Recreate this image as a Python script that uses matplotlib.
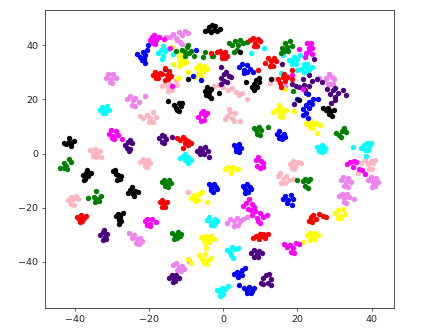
import matplotlib
matplotlib.use("Agg")
import matplotlib.pyplot as plt

# t-SNE embedding, one line per cluster
black_x = [-5.0, -4.2, -3.4, -2.6, -1.8, -1.0, -3.0, -2.2, -3.8,
           -5.0, -4.4, -3.8, -3.2, -4.6, -3.9, -3.3,
           -13.3, -12.7, -12.0, -11.4, -12.4, -11.8, -11.0,
           -43.0, -42.3, -41.6, -40.9, -40.2, -41.5, -41.0,
           -37.7, -37.0, -36.3, -35.7, -37.3, -36.6, -37.6,
           -29.6, -29.0, -28.3, -27.6, -28.6, -27.9, -29.2,
           -25.6, -25.0, -24.4, -23.7, -23.0, -24.6, -24.0,
           -29.0, -28.4, -27.7, -27.0, -28.2, -27.6, -28.0,
           7.8, 8.4, 9.0, 9.6, 8.2, 8.8, 9.6,
           26.8, 27.6, 28.2, 29.0, 29.8, 28.4, 29.4,
           -14.8, -9.6, 6.1, 12.9, -1.1, 4.5, 20.5]
black_y = [45.2, 45.8, 45.0, 45.6, 45.4, 46.0, 47.6, 47.0, 46.6,
           23.0, 24.4, 22.8, 23.8, 21.8, 21.2, 20.6,
           18.0, 17.0, 18.6, 17.6, 16.0, 15.6, 18.8,
           4.0, 3.6, 4.4, 3.8, 4.6, 5.6, 2.8,
           -8.0, -7.0, -8.2, -7.0, -9.4, -6.0, -9.8,
           -6.6, -7.6, -8.0, -8.4, -9.8, -9.4, -6.0,
           -14.4, -13.4, -14.8, -13.8, -14.2, -12.4, -15.6,
           -23.0, -22.2, -23.4, -21.8, -24.6, -25.0, -26.0,
           24.6, 25.6, 24.4, 26.6, 23.4, 27.0, 27.8,
           17.0, 16.2, 16.8, 15.8, 16.0, 14.6, 14.0,
           19.4, 27.6, 26.6, 27.7, 22.4, 37.5, 19.7]

red_x = [-19.0, -18.4, -17.7, -17.0, -16.5, -18.2, -17.5,
         -15.2, -14.6, -14.0, -14.8,
         -12.4, -11.6, -10.9, -10.2, -9.4, -8.8, -10.4, -9.6,
         -0.8, -0.2, 0.4, 1.0, -0.3, 0.5,
         7.2, 7.9, 8.6, 9.3, 10.0, 8.2, 9.0,
         11.2, 12.0, 12.8, 13.6, 14.3, 12.6, 13.4,
         14.8, 15.4, 16.0, 16.7, 17.2, 15.6, 16.3,
         -17.0, -16.5, -15.9, -15.2, -16.4, -15.7,
         -39.4, -38.8, -38.2, -37.5, -37.0, -38.5, -37.9,
         23.0, 23.6, 24.2, 25.0, 25.8, 26.8, 27.8, 24.0,
         8.0, 8.8, 9.6, 10.4, 11.2, 12.0, 9.8, 10.8,
         -15.7, -15.8, -10.7, -3.3, -1.8, 9.5, 18.5, 18.4]
red_y = [29.0, 30.0, 28.8, 29.8, 29.4, 27.8, 27.8,
         29.0, 30.0, 28.6, 27.6,
         5.6, 5.0, 6.0, 5.2, 4.6, 3.8, 3.8, 3.0,
         38.0, 36.4, 37.6, 36.2, 35.2, 35.4,
         41.8, 42.8, 41.0, 42.4, 41.4, 39.8, 39.6,
         33.4, 35.2, 34.2, 35.4, 34.0, 32.4, 32.2,
         27.6, 26.2, 28.2, 26.8, 28.2, 24.6, 29.4,
         -18.0, -17.0, -18.4, -17.8, -19.8, -19.6,
         -23.4, -24.2, -22.8, -23.8, -23.2, -25.4, -25.0,
         -24.8, -23.4, -22.8, -24.2, -22.4, -23.0, -23.4, -25.4,
         -31.2, -30.6, -31.4, -30.4, -31.2, -29.6, -29.8, -29.6,
         31.6, 27.0, 2.0, 37.0, 37.5, 31.0, 31.0, 27.4]

blue_x = [-23.2, -22.4, -21.7, -21.0, -20.4, -22.0, -21.3, -20.2, -21.2,
          4.2, 5.0, 5.7, 6.4, 7.2, 7.9, 5.6, 6.3,
          21.6, 22.4, 23.2, 24.0, 22.4, 23.0,
          14.4, 15.0, 15.7, 16.4, 15.0, 15.8, 16.6,
          2.8, 3.5, 4.2, 4.8, 3.4, 4.2,
          -3.9, -3.2, -2.5, -1.9, -3.4, -2.7, -1.8,
          5.2, 5.8, 6.4, 7.2, 5.8, 6.6, 7.4,
          16.0, 16.7, 17.4, 18.2, 18.9, 17.2, 18.4,
          3.0, 3.7, 4.4, 5.1, 5.8, 4.0, 5.0,
          5.6, 6.3, 7.0, 7.8, 8.4, 6.5, 7.4,
          -7.4, -8.1, -5.9, 19.8, 24.3, 25.4, 21.6, 22.8, 22.9, 4.3]
blue_y = [36.6, 35.8, 37.6, 36.4, 38.2, 34.6, 35.0, 40.2, 33.4,
          31.8, 33.2, 31.0, 32.8, 31.2, 30.2, 29.8, 30.0,
          16.6, 17.8, 16.8, 18.4, 15.0, 19.2,
          7.2, 8.4, 6.6, 7.4, 5.6, 5.2, 6.0,
          3.2, 2.2, 3.4, 2.2, 0.8, 0.6,
          -11.4, -12.8, -11.2, -12.2, -13.6, -14.0, -13.2,
          -12.0, -13.2, -11.2, -12.2, -14.4, -14.2, -13.0,
          -16.8, -15.6, -17.2, -15.4, -16.8, -18.4, -18.8,
          -44.6, -43.8, -44.4, -43.0, -42.2, -45.6, -45.0,
          -49.8, -50.8, -49.4, -50.6, -49.6, -51.6, -51.6,
          38.1, 28.7, 27.1, 20.0, 20.3, 20.0, 14.4, 13.3, 22.0, -48.4]

green_x = [-11.0, -10.4, -9.8, -9.2, -8.6, -10.2, -9.5, -12.6, -8.0,
           1.6, 2.4, 3.2, 3.9, 4.6, 5.4, 6.4, 3.6, 3.0,
           15.8, 16.6, 17.2, 18.0, 18.4, 16.4, 17.4,
           8.2, 8.9, 9.6, 10.3, 9.2, 10.0, 12.1,
           30.4, 31.2, 32.0, 33.0, 32.4, 31.6,
           -43.9, -43.0, -42.3, -41.6, -41.0, -43.0, -42.2,
           -16.6, -16.0, -15.3, -14.5, -14.0, -15.6, -14.9,
           -36.3, -34.8, -34.2, -33.6, -33.0, -34.4, -33.4,
           -13.8, -13.0, -12.3, -11.5, -13.2, -12.5, -11.7,
           21.4, 22.1, 22.8, 23.5, 21.9, 22.8, 19.8,
           -4.9, -5.5, -2.8, -2.9, 18.7, -14.6, 15.6]
green_y = [38.4, 37.4, 39.2, 37.0, 37.8, 36.2, 40.0, 38.0, 36.2,
           40.8, 40.0, 41.6, 40.2, 42.0, 41.0, 41.2, 38.4, 37.4,
           38.8, 41.0, 39.4, 41.6, 39.8, 37.8, 37.8,
           9.6, 8.8, 9.8, 8.6, 7.4, 7.0, 9.7,
           7.6, 7.0, 8.4, 8.0, 9.6, 6.0,
           -5.5, -3.4, -4.4, -2.0, -3.2, -5.2, -5.6,
           -10.6, -9.6, -11.2, -9.8, -10.8, -12.0, -12.4,
           -16.5, -16.0, -13.8, -16.8, -15.6, -17.8, -17.4,
           -29.4, -30.2, -28.8, -29.8, -31.4, -31.2, -30.6,
           -10.2, -9.2, -10.2, -9.2, -11.8, -12.6, -9.8,
           37.5, 35.7, 36.0, 36.0, 23.0, 30.5, 37.0]

cyan_x = [-17.6, -16.8, -16.3, -15.6, -15.0, -16.2, -16.6,
          17.6, 18.4, 19.1, 19.8, 20.6, 18.6, 19.6,
          21.0, 21.7, 22.4, 23.2, 23.8, 21.8, 22.6,
          -33.2, -32.6, -32.0, -31.3, -30.8, -32.4, -31.8,
          25.2, 26.0, 26.7, 27.5, 25.8, 26.6, 27.2,
          37.2, 37.9, 38.6, 39.3, 39.8, 38.2, 39.0, 38.4,
          -11.6, -10.9, -10.2, -9.5, -8.8, -10.4, -9.4,
          -4.4, -3.7, -3.0, -2.3, -1.6, -3.4, -2.4,
          1.0, 1.8, 2.5, 3.2, 4.0, 2.0, 2.6,
          -1.6, -0.9, -0.2, 0.5, 1.2, -1.0, 0.0,
          -13.5, 10.9, 7.5, 16.0, 15.6, 19.8, 35.0]
cyan_y = [37.2, 38.4, 39.6, 37.8, 38.6, 36.2, 35.0,
          34.6, 34.0, 35.6, 35.0, 36.4, 33.2, 33.2,
          31.2, 30.2, 32.0, 30.8, 32.0, 33.2, 33.0,
          16.0, 17.2, 16.2, 17.4, 16.2, 15.0, 14.8,
          2.4, 1.8, 3.0, 2.2, 0.8, 0.4, 0.8,
          2.2, 3.2, 4.0, 2.8, 4.0, 1.2, 1.2, -0.8,
          -1.8, -0.8, -2.4, -1.2, -2.2, -0.2, -3.4,
          -24.4, -23.4, -25.2, -24.0, -24.8, -26.4, -26.2,
          -35.6, -36.4, -34.6, -35.4, -34.8, -37.4, -38.4,
          -50.4, -51.2, -49.8, -50.0, -49.0, -52.4, -52.0,
          36.6, 39.1, 37.3, 36.3, 29.8, 30.8, 2.6]

magenta_x = [-19.8, -19.2, -18.6, -18.0, -17.2, -16.0, -18.9, -18.3,
             22.4, 23.0, 23.6, 24.0, 23.0, 24.0, 22.6,
             -6.8, -6.1, -5.5, -4.9, -4.4, -6.0, -5.2,
             -30.8, -30.2, -29.6, -29.0, -28.4, -27.2, -30.0, -29.4,
             -21.2, -20.4, -19.8, -19.2, -18.2, -20.4, -19.6,
             8.8, 9.5, 10.2, 10.8, 9.2, 9.9, 10.7,
             33.4, 34.2, 35.0, 35.8, 36.6, 37.4, 38.2, 35.2,
             5.4, 6.2, 7.0, 7.7, 8.2, 6.8, 7.4,
             7.8, 8.5, 9.2, 9.9, 10.6, 11.8, 9.4, 10.0,
             16.4, 17.2, 18.0, 18.8, 19.6, 20.4, 18.2, 19.0,
             -14.3, 20.3, 22.0, 18.5, 21.4, -13.8]
magenta_y = [41.8, 43.0, 43.8, 42.0, 43.2, 42.4, 40.8, 40.4,
             37.2, 39.0, 40.8, 38.8, 37.8, 36.8, 41.0,
             13.6, 15.0, 15.8, 14.2, 14.8, 12.0, 12.4,
             7.4, 8.6, 6.6, 8.4, 6.8, 5.2, 5.8, 5.4,
             -25.0, -24.0, -26.0, -24.2, -25.2, -26.4, -26.8,
             -2.4, -1.4, -2.8, -3.6, -4.4, -5.4, -5.0,
             -4.0, -3.2, -5.0, -3.0, -5.6, -6.2, -7.6, -2.8,
             -19.2, -18.4, -16.6, -18.6, -19.6, -20.4, -20.8,
             -22.8, -21.2, -23.6, -21.8, -23.4, -22.8, -25.0, -25.6,
             -33.4, -34.4, -33.6, -34.8, -33.0, -33.4, -36.2, -36.6,
             39.0, 38.5, 35.7, 29.0, 23.9, 25.0]

yellow_x = [-12.0, -11.4, -10.8, -10.3, -11.6, -11.0, -11.8, -10.0,
            -7.2, -6.5, -5.8, -5.1, -4.4, -6.4, -5.5, -6.0,
            13.4, 14.1, 14.8, 15.5, 16.2, 16.9, 15.4, 15.9, 15.0,
            22.2, 22.9, 23.6, 24.3, 25.0, 26.0, 23.8, 23.4,
            0.6, 1.3, 2.0, 2.7, 3.4, 4.0, 2.0,
            -8.6, -7.9, -7.2, -6.5, -5.8, -7.6, -6.9,
            30.0, 30.8, 31.5, 32.2, 32.9, 30.8, 31.8,
            22.6, 23.3, 24.0, 24.7, 25.4, 23.4, 24.4,
            -6.0, -5.3, -4.6, -3.9, -3.2, -2.6, -5.0, -3.8,
            -6.4, -5.6, -4.9, -4.2, -3.2, -5.2, -4.4,
            -13.8, -13.5, -12.2, -9.4, -7.6, 16.3, 19.1, 25.2,
            -4.5, -4.6, -9.5, -8.7, 21.4]
yellow_y = [36.0, 37.2, 35.4, 36.6, 34.0, 33.0, 32.4, 33.8,
            31.6, 32.8, 31.2, 32.4, 31.2, 29.8, 30.0, 28.6,
            15.2, 16.2, 15.6, 17.0, 15.4, 16.0, 14.0, 13.6, 18.0,
            11.2, 10.4, 12.2, 10.8, 11.4, 10.6, 9.4, 9.8,
            -5.6, -5.0, -6.2, -4.8, -5.8, -5.6, -7.2,
            -16.4, -15.4, -16.8, -14.9, -14.2, -17.6, -17.2,
            -21.8, -21.0, -23.0, -20.6, -22.4, -23.8, -23.6,
            -30.2, -29.4, -30.8, -29.2, -30.2, -31.8, -31.6,
            -30.8, -31.8, -30.4, -31.6, -30.6, -31.4, -33.0, -32.8,
            -37.6, -39.0, -37.2, -39.2, -38.4, -40.4, -40.6,
            39.5, 33.0, 28.0, 30.0, 28.4, 23.7, 15.7, 7.7,
            -17.7, -34.8, -39.0, -40.5, -32.8]

indigo_x = [-26.4, -25.7, -25.2, -24.6, -25.8, -25.1, -25.4,
            -17.2, -16.5, -15.9, -15.3, -16.6, -16.0,
            -7.0, -6.3, -5.6, -4.9, -4.2, -6.2, -5.2, -3.8,
            -0.6, 0.1, 0.8, 1.5, 2.2, 0.3, 1.0, -0.5,
            18.4, 19.6, 20.4, 21.6, 21.8, 22.0, 23.2, 24.0, 25.2, 26.6, 22.2, 23.0,
            28.8, 29.6, 30.2, 31.0, 32.2, 33.2, 30.2, 30.0,
            -33.2, -32.5, -31.9, -31.2, -32.4, -31.5, -32.0,
            -14.6, -13.9, -13.2, -12.6, -12.0, -13.6, -12.9,
            7.6, 8.3, 9.0, 9.7, 10.4, 8.4, 9.4,
            10.2, 10.8, 11.6, 12.2, 12.8, 10.8, 12.8, 12.0,
            -13.7, -0.6, 15.8, 24.5, 27.9, 29.1, 19.1, -15.7]
indigo_y = [3.2, 4.2, 5.0, 3.8, 2.2, 1.6, 1.0,
            5.6, 7.0, 6.6, 5.4, 4.4, 4.0,
            1.0, 2.2, 1.4, 2.4, 0.8, 0.0, 0.0, -1.3,
            28.0, 29.4, 30.0, 28.8, 28.2, 26.8, 26.4, 25.6,
            25.6, 25.0, 24.6, 27.4, 25.4, 23.4, 29.0, 26.8, 27.6, 26.4, 22.4, 24.8,
            22.0, 23.4, 24.2, 22.4, 23.4, 21.8, 21.0, 19.8,
            -30.2, -29.0, -30.8, -29.6, -31.8, -31.6, -28.2,
            -45.8, -45.0, -46.4, -44.8, -46.0, -47.4, -47.2,
            -36.6, -35.6, -37.0, -35.8, -36.6, -38.2, -38.2,
            -47.8, -46.0, -45.0, -44.4, -46.4, -48.2, -48.4, -47.6,
            6.2, 31.8, 32.9, 34.8, 24.0, 18.8, 18.4, 31.1]

violet_x = [-14.2, -13.4, -12.6, -11.9, -11.2, -10.4, -9.6, -12.4, -11.6,
            -31.6, -30.9, -30.3, -29.6, -29.0, -30.6, -30.0,
            -25.8, -25.0, -24.4, -23.7, -22.8, -21.0, -24.6, -23.8,
            27.8, 28.5, 29.2, 29.9, 28.2, 28.8, 29.7, 27.8,
            31.6, 32.3, 33.0, 33.7, 34.4, 32.6, 33.6,
            39.0, 39.7, 40.4, 41.1, 41.6, 40.0, 41.0,
            31.2, 31.9, 32.6, 33.3, 34.0, 35.2, 32.4, 33.2,
            1.0, 1.8, 2.8, 3.6, 4.4, 5.4, 6.4, 3.0, 4.0,
            -24.6, -23.9, -23.2, -22.5, -21.8, -23.4, -22.6,
            -13.4, -12.6, -11.9, -11.2, -10.5, -9.2, -12.4, -11.4,
            -15.4, -11.2, -25.5, 16.7, 25.8]
violet_y = [43.0, 44.2, 42.8, 44.8, 43.6, 45.4, 44.4, 41.8, 41.2,
            28.0, 29.4, 27.6, 29.2, 27.8, 26.4, 26.0,
            20.0, 21.2, 19.6, 20.6, 19.2, 21.4, 17.8, 17.4,
            27.6, 29.4, 28.4, 27.6, 25.6, 25.8, 25.6, 28.0,
            -9.6, -8.8, -10.4, -9.0, -10.4, -12.0, -12.4,
            -9.8, -8.8, -10.6, -9.0, -10.6, -12.2, -12.0,
            -15.8, -15.0, -16.4, -14.8, -16.2, -16.6, -18.0, -18.4,
            -25.6, -24.0, -25.0, -23.8, -24.8, -24.2, -23.4, -26.6, -26.4,
            -31.0, -30.2, -31.6, -31.2, -32.4, -33.0, -33.2,
            -41.2, -40.4, -42.0, -41.4, -42.6, -39.6, -43.0, -43.2,
            42.9, 40.4, -29.4, 25.0, 27.8]

pink_x = [-16.6, -15.8, -15.0, -14.3, -13.4, -12.4, -14.8, -13.8, -12.8,
          -22.4, -21.5, -20.6, -19.8, -19.0, -18.2, -20.0, -19.0,
          -2.6, -1.2, 0.0, 1.4, 2.4, 3.4, 4.2, 5.0,
          0.4, 1.1, 1.8, 2.5, 3.2, 4.4, 1.6, 2.8,
          -35.8, -35.2, -34.6, -34.0, -33.2, -35.2, -34.2, -33.0,
          -22.4, -21.7, -21.0, -20.3, -19.8, -21.2, -20.6,
          -41.8, -41.0, -40.4, -39.7, -39.0, -41.0, -40.2,
          18.0, 18.7, 19.4, 20.1, 21.0, 18.4, 19.2,
          14.8, 15.4, 16.1, 16.8, 17.6, 18.8, 15.6, 16.6,
          37.2, 38.1, 39.0, 39.7, 40.4, 41.0, 39.2, 40.2,
          -9.6, 6.4, 12.7, 13.6, 36.2]
pink_y = [24.8, 25.8, 24.6, 25.6, 24.8, 25.2, 23.0, 23.4, 27.0,
          14.0, 13.2, 14.4, 13.2, 15.4, 13.4, 11.8, 11.6,
          24.8, 25.2, 24.4, 23.6, 24.2, 22.8, 21.8, 22.4,
          12.6, 13.8, 15.4, 13.0, 14.8, 12.2, 16.6, 12.0,
          1.2, 0.0, 1.8, 0.2, 0.8, -1.0, -1.4, -1.2,
          -3.0, -2.0, -3.6, -2.4, -3.4, -4.6, -5.0,
          -17.0, -16.0, -16.6, -15.6, -16.8, -18.6, -18.8,
          -3.8, -2.8, -4.4, -3.0, -3.4, -5.4, -5.6,
          -8.4, -7.0, -9.4, -8.2, -9.6, -9.2, -11.0, -10.8,
          -3.4, -2.4, -4.0, -2.6, -3.6, -2.2, -5.6, -5.8,
          -14.3, 20.3, 26.0, 27.6, -7.3]

series = [("lightpink", pink_x, pink_y), ("violet", violet_x, violet_y),
          ("yellow", yellow_x, yellow_y), ("indigo", indigo_x, indigo_y),
          ("cyan", cyan_x, cyan_y), ("blue", blue_x, blue_y),
          ("magenta", magenta_x, magenta_y), ("green", green_x, green_y),
          ("red", red_x, red_y), ("black", black_x, black_y)]

fig = plt.figure(figsize=(4.23, 3.36), dpi=100)
ax = fig.add_axes([45 / 423, 1 - 308 / 336, 349 / 423, 298 / 336])

for color, xs, ys in series:
    ax.scatter(xs, ys, s=15, c=color, linewidths=0)

ax.set_xlim(-48, 46)
ax.set_ylim(-57, 53)
ax.set_xticks([-40, -20, 0, 20, 40])
ax.set_yticks([-40, -20, 0, 20, 40])
ax.tick_params(labelsize=6.8, width=0.55, length=2.4, pad=2.4, color="#333333", labelcolor="#222222")
for side in ax.spines.values():
    side.set_linewidth(0.6)
    side.set_color("#333333")

fig.savefig("out.png")
